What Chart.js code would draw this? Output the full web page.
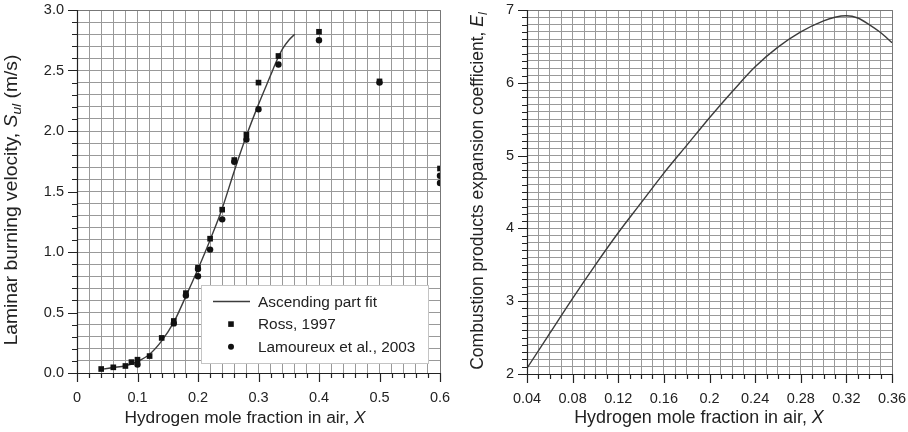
<!DOCTYPE html>
<html>
<head>
<meta charset="utf-8">
<script src="https://cdn.jsdelivr.net/npm/chart.js@4.4.1/dist/chart.umd.min.js"></script>
<style>
  html, body { margin: 0; padding: 0; background: #fff; }
  #wrap { position: relative; width: 908px; height: 432px; }
  .box { position: absolute; top: 0; height: 432px; }
  #left { left: 0; width: 455px; }
  #right { left: 455px; width: 453px; }
</style>
</head>
<body>
<div id="wrap">
  <div class="box" id="left"><canvas id="speedChart"></canvas></div>
  <div class="box" id="right"><canvas id="expansionChart"></canvas></div>
</div>
<script>
// --- laminar burning velocity (left) ---
const fitX = [0.04, 0.06, 0.08, 0.10, 0.12, 0.14, 0.16, 0.18, 0.20, 0.22, 0.24, 0.26, 0.28, 0.30, 0.32, 0.33, 0.34, 0.35, 0.36];
const fitY = [0.03, 0.045, 0.06, 0.095, 0.155, 0.265, 0.42, 0.635, 0.86, 1.10, 1.36, 1.67, 1.96, 2.22, 2.46, 2.58, 2.68, 2.75, 2.80];

const rossX = [0.04, 0.06, 0.08, 0.09, 0.10, 0.12, 0.14, 0.16, 0.18, 0.20, 0.22, 0.24, 0.26, 0.28, 0.30, 0.333, 0.40, 0.50, 0.60];
const rossY = [0.033, 0.047, 0.058, 0.09, 0.11, 0.14, 0.29, 0.43, 0.66, 0.87, 1.11, 1.35, 1.76, 1.97, 2.40, 2.62, 2.82, 2.41, 1.69];

const lamX = [0.10, 0.16, 0.18, 0.20, 0.20, 0.22, 0.24, 0.26, 0.28, 0.30, 0.333, 0.40, 0.50, 0.60, 0.60];
const lamY = [0.07, 0.41, 0.64, 0.80, 0.86, 1.02, 1.27, 1.745, 1.93, 2.18, 2.55, 2.75, 2.40, 1.63, 1.57];

const speedXTicks = ['0', '0.1', '0.2', '0.3', '0.4', '0.5', '0.6'];
const speedYTicks = ['0.0', '0.5', '1.0', '1.5', '2.0', '2.5', '3.0'];

// --- expansion coefficient (right) ---
const expX = [0.04, 0.06, 0.08, 0.10, 0.12, 0.14, 0.16, 0.18, 0.20, 0.22, 0.24, 0.26, 0.28, 0.30, 0.31, 0.32, 0.33, 0.34, 0.35, 0.36];
const expY = [2.08, 2.56, 3.04, 3.50, 3.94, 4.35, 4.76, 5.14, 5.52, 5.88, 6.22, 6.49, 6.70, 6.85, 6.90, 6.92, 6.89, 6.80, 6.69, 6.55];

const expXTicks = ['0.04', '0.08', '0.12', '0.16', '0.2', '0.24', '0.28', '0.32', '0.36'];
const expYTicks = ['2', '3', '4', '5', '6', '7'];

const FONT = '"Liberation Sans", Arial, Helvetica, sans-serif';
const GRID = '#999';
const INK = '#222';

const toPoints = (xs, ys) => xs.map((x, i) => ({ x: x, y: ys[i] }));

function labelFor(list) {
    return function(v) {
        const hit = list.find(s => Math.abs(parseFloat(s) - v) < 1e-6);
        return hit === undefined ? '' : hit;
    };
}

// draws a title made of plain / italic / subscript pieces, centred on x
function drawRich(ctx, segs, cx, baseY, size) {
    const fontOf = s => (s.italic ? 'italic ' : '') + (s.sub ? size * 0.72 : size) + 'px ' + FONT;
    let total = 0;
    segs.forEach(s => { ctx.font = fontOf(s); total += ctx.measureText(s.text).width; });
    let x = cx - total / 2;
    ctx.textAlign = 'left';
    ctx.textBaseline = 'alphabetic';
    segs.forEach(s => {
        ctx.font = fontOf(s);
        ctx.fillText(s.text, x, baseY + (s.sub ? size * 0.22 : 0));
        x += ctx.measureText(s.text).width;
    });
}

const decor = {
    id: 'decor',
    afterDraw(chart, args, o) {
        const { ctx, chartArea: a, scales: { x, y } } = chart;
        ctx.save();
        // frame top / right
        ctx.strokeStyle = '#777';
        ctx.lineWidth = 1;
        ctx.beginPath();
        ctx.moveTo(a.left, a.top + 0.5); ctx.lineTo(a.right + 0.5, a.top + 0.5);
        ctx.lineTo(a.right + 0.5, a.bottom);
        ctx.stroke();
        // axes and tick marks
        ctx.strokeStyle = INK;
        ctx.lineWidth = 1.2;
        ctx.beginPath();
        ctx.moveTo(a.left + 0.5, a.top); ctx.lineTo(a.left + 0.5, a.bottom + 0.5);
        ctx.lineTo(a.right + 0.5, a.bottom + 0.5);
        x.ticks.forEach(t => {
            const px = Math.round(x.getPixelForValue(t.value)) + 0.5;
            ctx.moveTo(px, a.bottom); ctx.lineTo(px, a.bottom + (t.label ? 9 : 5));
        });
        y.ticks.forEach(t => {
            const py = Math.round(y.getPixelForValue(t.value)) + 0.5;
            ctx.moveTo(a.left, py); ctx.lineTo(a.left - (t.label ? 9 : 5), py);
        });
        ctx.stroke();

        // axis titles
        ctx.fillStyle = INK;
        drawRich(ctx, o.xTitle, o.xTitleX, o.xTitleY, o.xTitleSize);
        ctx.save();
        ctx.translate(o.yTitleX, o.yTitleY);
        ctx.rotate(-Math.PI / 2);
        ctx.scale(o.yTitleStretch || 1, 1);
        drawRich(ctx, o.yTitle, 0, 0, o.yTitleSize);
        ctx.restore();

        // legend box
        if (o.legend) {
            const L = o.legend;
            ctx.fillStyle = '#fff';
            ctx.fillRect(L.left, L.top, L.width, L.height);
            ctx.strokeStyle = '#c4c4c4';
            ctx.lineWidth = 1;
            ctx.strokeRect(L.left + 0.5, L.top + 0.5, L.width, L.height);
            chart.data.datasets.forEach((ds, i) => {
                const cy = L.firstRow + i * L.rowGap;
                if (ds.showLine) {
                    ctx.strokeStyle = ds.borderColor;
                    ctx.lineWidth = ds.borderWidth;
                    ctx.beginPath();
                    ctx.moveTo(L.sampleX - 18, cy); ctx.lineTo(L.sampleX + 19, cy);
                    ctx.stroke();
                } else {
                    ctx.fillStyle = ds.pointBackgroundColor;
                    ctx.beginPath();
                    if (ds.pointStyle === 'rect') ctx.rect(L.sampleX - 2.8, cy - 2.8, 5.6, 5.6);
                    else ctx.arc(L.sampleX, cy, 3, 0, Math.PI * 2);
                    ctx.fill();
                }
                ctx.fillStyle = INK;
                ctx.font = L.fontSize + 'px ' + FONT;
                ctx.textAlign = 'left';
                ctx.textBaseline = 'middle';
                ctx.fillText(ds.label, L.textX, cy + 1);
            });
        }
        ctx.restore();
    }
};

function makeScales(cfg) {
    return {
        x: {
            type: 'linear', min: cfg.xMin, max: cfg.xMax,
            afterFit: s => { s.height = cfg.axisH; s.paddingLeft = 0; s.paddingRight = 0; },
            grid: { color: GRID, lineWidth: 1, drawTicks: false },
            border: { display: false },
            ticks: {
                stepSize: cfg.xStep, autoSkip: false, maxRotation: 0, padding: 16,
                color: INK, font: { family: FONT, size: cfg.tickSize },
                callback: labelFor(cfg.xLabels)
            }
        },
        y: {
            type: 'linear', min: cfg.yMin, max: cfg.yMax,
            afterFit: s => { s.width = cfg.axisW; s.paddingTop = 0; s.paddingBottom = 0; },
            grid: { color: GRID, lineWidth: 1, drawTicks: false },
            border: { display: false },
            ticks: {
                stepSize: cfg.yStep, autoSkip: false, padding: 13,
                color: INK, font: { family: FONT, size: cfg.tickSize },
                callback: labelFor(cfg.yLabels)
            }
        }
    };
}

new Chart(document.getElementById('speedChart'), {
    type: 'scatter',
    data: {
        datasets: [{
            label: 'Ascending part fit',
            data: toPoints(fitX, fitY),
            showLine: true,
            borderColor: '#3c3c3c',
            borderWidth: 1.4,
            pointRadius: 0,
            cubicInterpolationMode: 'monotone',
            order: 2
        }, {
            label: 'Ross, 1997',
            data: toPoints(rossX, rossY),
            pointStyle: 'rect',
            pointRadius: 4,
            pointBackgroundColor: '#111',
            pointBorderWidth: 0,
            order: 1
        }, {
            label: 'Lamoureux et al., 2003',
            data: toPoints(lamX, lamY),
            pointStyle: 'circle',
            pointRadius: 3.2,
            pointBackgroundColor: '#111',
            pointBorderWidth: 0,
            order: 0
        }]
    },
    options: {
        responsive: true,
        maintainAspectRatio: false,
        animation: false,
        events: [],
        layout: { padding: { left: 0, top: 10, right: 15, bottom: 0 } },
        scales: makeScales({
            xMin: 0, xMax: 0.6, xStep: 0.02, xLabels: speedXTicks,
            yMin: 0, yMax: 3, yStep: 0.1, yLabels: speedYTicks,
            tickSize: 14.5, axisW: 77, axisH: 59
        }),
        plugins: {
            legend: { display: false },
            tooltip: { enabled: false },
            decor: {
                xTitle: [{ text: 'Hydrogen mole fraction in air, ' }, { text: 'X', italic: true }],
                xTitleX: 245, xTitleY: 423, xTitleSize: 17.3,
                yTitle: [{ text: 'Laminar burning velocity, ' }, { text: 'S', italic: true },
                         { text: 'ul', italic: true, sub: true }, { text: ' (m/s)' }],
                yTitleX: 17, yTitleY: 200, yTitleSize: 17.5, yTitleStretch: 1.1,
                legend: { left: 201, top: 285, width: 227, height: 78,
                          firstRow: 301.5, rowGap: 22.6, sampleX: 231, textX: 258, fontSize: 15.4 }
            }
        }
    },
    plugins: [decor]
});

new Chart(document.getElementById('expansionChart'), {
    type: 'scatter',
    data: {
        datasets: [{
            label: 'Expansion coefficient',
            data: toPoints(expX, expY),
            showLine: true,
            borderColor: '#3c3c3c',
            borderWidth: 1.4,
            pointRadius: 0,
            cubicInterpolationMode: 'monotone'
        }]
    },
    options: {
        responsive: true,
        maintainAspectRatio: false,
        animation: false,
        events: [],
        layout: { padding: { left: 0, top: 10, right: 16, bottom: 0 } },
        scales: makeScales({
            xMin: 0.04, xMax: 0.36, xStep: 0.01, xLabels: expXTicks,
            yMin: 2, yMax: 7, yStep: 0.1, yLabels: expYTicks,
            tickSize: 14.5, axisW: 72, axisH: 58
        }),
        plugins: {
            legend: { display: false },
            tooltip: { enabled: false },
            decor: {
                xTitle: [{ text: 'Hydrogen mole fraction in air, ' }, { text: 'X', italic: true }],
                xTitleX: 244, xTitleY: 423, xTitleSize: 17.9,
                yTitle: [{ text: 'Combustion products expansion coefficient, ' }, { text: 'E', italic: true },
                         { text: 'l', italic: true, sub: true }],
                yTitleX: 28, yTitleY: 191, yTitleSize: 17.5
            }
        }
    },
    plugins: [decor]
});
</script>
</body>
</html>
